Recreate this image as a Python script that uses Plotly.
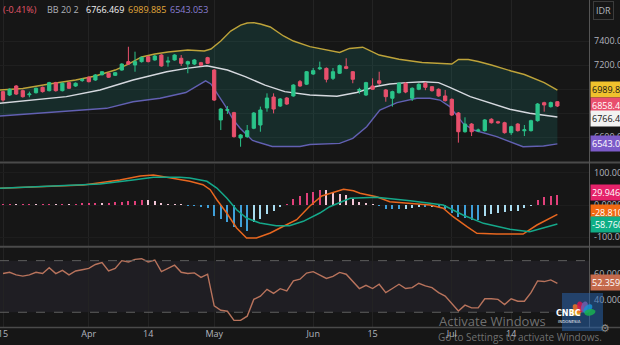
import math
import plotly.graph_objects as go

W, H = 620, 345

# ---------------- daily candles (IDR) ----------------
candle_idx = list(range(85))
opens = [6978, 6950, 7025, 6986, 6952, 6969, 7014, 6986, 7053, 6986,
         7053, 7025, 7070, 7098, 7075, 7119, 7131, 7114, 7158, 7228,
         7200, 7228, 7269, 7242, 7283, 7224, 7242, 7256, 7208, 7208,
         7219, 7261, 7158, 6742, 6822, 6803, 6592, 6603, 6673, 6700,
         6842, 6933, 6858, 6925, 6942, 7061, 7040, 7125, 7168, 7172,
         7089, 7131, 7186, 7144, 6988, 6950, 7025, 7069, 6992, 6923,
         6969, 7048, 6923, 6998, 7048, 7019, 6998, 6942, 6914, 6800,
         6644, 6708, 6650, 6653, 6748, 6727, 6719, 6636, 6708, 6652,
         6653, 6736, 6886, 6853, 6894]
highs = [6985, 7005, 7033, 6995, 6978, 7012, 7020, 7060, 7060, 7055,
         7060, 7055, 7092, 7105, 7125, 7150, 7138, 7142, 7215, 7352,
         7311, 7270, 7276, 7283, 7290, 7269, 7290, 7283, 7236, 7250,
         7226, 7268, 7165, 6842, 6858, 6810, 6625, 6700, 6808, 6853,
         6964, 6964, 6925, 6933, 7040, 7075, 7150, 7175, 7228, 7180,
         7175, 7203, 7256, 7150, 7010, 7060, 7089, 7144, 7000, 6986,
         7056, 7056, 7014, 7048, 7058, 7025, 7005, 6992, 6922, 6808,
         6764, 6716, 6670, 6750, 6756, 6735, 6727, 6694, 6716, 6700,
         6744, 6883, 6894, 6895, 6900]
lows = [6894, 6942, 6950, 6928, 6931, 6962, 6970, 6980, 6978, 6980,
        7000, 7018, 7060, 7055, 7068, 7112, 7092, 7108, 7152, 7200,
        7144, 7220, 7222, 7236, 7186, 7186, 7236, 7192, 7131, 7200,
        7190, 7208, 6900, 6658, 6792, 6595, 6519, 6592, 6665, 6644,
        6811, 6797, 6850, 6867, 6936, 7018, 7033, 7117, 7158, 7055,
        7075, 7125, 7165, 7048, 6960, 6942, 6992, 7033, 6894, 6853,
        6962, 6965, 6900, 6990, 6990, 6978, 6936, 6895, 6775, 6553,
        6636, 6608, 6640, 6645, 6712, 6710, 6628, 6617, 6645, 6608,
        6645, 6728, 6811, 6845, 6850]
closes = [6908, 6998, 6958, 6936, 6958, 7006, 6978, 7053, 6986, 7048,
          7006, 7048, 7078, 7061, 7117, 7144, 7098, 7136, 7208, 7208,
          7228, 7264, 7228, 7275, 7192, 7232, 7283, 7214, 7228, 7242,
          7198, 7214, 6908, 6833, 6828, 6603, 6617, 6653, 6800, 6825,
          6925, 6833, 6917, 6875, 7033, 7025, 7144, 7153, 7176, 7081,
          7144, 7195, 7172, 7081, 6996, 7053, 6998, 7048, 6936, 6978,
          7048, 6975, 7006, 7039, 7014, 6986, 6942, 6903, 6783, 6644,
          6708, 6644, 6658, 6742, 6719, 6719, 6636, 6686, 6653, 6660,
          6736, 6875, 6867, 6886.7, 6858.4]

# ---------------- Bollinger Bands (20, 2) ----------------
bb_upper_x = [-0.5, 3, 7, 11, 14, 17, 19, 21, 23, 25,
              28, 30.5, 31.5, 33, 34.5, 36, 37, 38, 39, 40.5,
              42.5, 44, 46.5, 49.5, 51, 52.5, 54.5, 57, 60, 63.5,
              66, 68, 69, 70.5, 72, 74, 77, 79, 82, 84]
bb_upper = [6992, 7004, 7042, 7075, 7108, 7158, 7208, 7267, 7292, 7308,
            7325, 7317, 7333, 7400, 7483, 7533, 7550, 7553, 7542, 7517,
            7442, 7400, 7353, 7319, 7304, 7338, 7348, 7283, 7248, 7221,
            7214, 7208, 7246, 7246, 7229, 7200, 7150, 7121, 7053, 6989.885]
bb_mid_x = [-0.5, 4.6, 9.6, 14.7, 19.7, 24.8, 27.8, 30.9, 32.9, 34,
            36.7, 39.7, 42.7, 46.5, 50.6, 53.6, 56.3, 58.6, 61.2, 63.7,
            66, 67.7, 70.8, 73.8, 76.8, 79.8, 84]
bb_mid = [6881, 6908, 6936, 6992, 7075, 7144, 7172, 7194, 7172, 7158,
          7103, 7033, 6978, 6950, 6940, 6971, 7019, 7042, 7053, 7061,
          7053, 7014, 6936, 6881, 6831, 6798, 6766.469]
bb_lower_x = [-0.5, 7.1, 12.7, 15.7, 19.7, 23.8, 27.7, 30.7, 31.5, 33.7,
              34.9, 35.9, 37.8, 40.8, 45, 46.5, 51, 53, 55.1, 57.1,
              59.7, 62.7, 64.7, 66.2, 67.7, 69.7, 71.3, 74.8, 78.8, 81.9, 84]
bb_lower = [6775, 6803, 6825, 6839, 6894, 6923, 6971, 7068, 7042, 6858,
            6742, 6675, 6571, 6521, 6521, 6537, 6547, 6589, 6686, 6825,
            6886, 6923, 6923, 6908, 6853, 6714, 6658, 6603, 6519, 6525, 6543.053]

# ---------------- MACD ----------------
macd_x = [-0.5, 12.2, 14.7, 17.7, 20.8, 22.8, 24.8, 28.3, 30.3, 31.4,
          32.4, 33.9, 35.4, 36.9, 38.4, 40.5, 42.5, 44.5, 46.5, 48.3,
          51.6, 53.1, 54.1, 56.6, 58.6, 61.7, 64.7, 66.7, 68.2, 70.3,
          71.8, 74.8, 78.8, 80.9, 84]
macd_line = [51.7, 61.9, 69, 77.4, 89.8, 92.9, 85.8, 73.4, 62.8, 47.4,
             16.4, -24.8, -71.2, -102, -102, -86.7, -65.9, -45.5, -3, 28,
             48.6, 44.3, 36.2, 25.7, 10.2, 5.3, 0, -10.2, -36.2, -67.2,
             -87.6, -89.8, -89.8, -61.9, -28.81]
signal_x = [-0.5, 14.7, 19.7, 22.8, 26.8, 28.3, 30.9, 32.4, 33.9, 35.4,
            36.9, 38.9, 41.4, 43.4, 45.5, 48, 49.5, 52.6, 56.6, 61.7,
            66.7, 69.7, 72.8, 76.8, 79.8, 84]
signal_line = [51.7, 65, 77.4, 85.8, 85.8, 83.6, 73.4, 52.6, 21.7, -14.6,
               -40.2, -55.7, -64, -64, -50.5, -24.8, -5.3, 20.7, 23.8, 13.3,
               0, -31, -56.7, -75.2, -82.7, -58.76]
macd_hist = [2, 2, 1, 2, 2, 1, 2, 3, 2, 3,
             2, 3, 4, 5, 7, 5, 6, 8, 10, 12,
             13, 15, 14, 11, 6, 3, 2, 1, -2, -3,
             -7, -8, -33, -43, -54, -69, -69, -79, -54, -43,
             -28, -17.5, -4, 1, 18.6, 29, 37, 40, 46, 45,
             39, 34, 30, 19, 8, 5, 2, -1, -12, -12,
             -12, -11, -10, -7, -7, -6, -7, -12, -26, -36,
             -40, -46, -46, -33, -28, -26, -23, -20, -18, -10,
             -2, 14, 24, 29, 29.946]

# ---------------- RSI ----------------
rsi = [60, 61, 59, 58, 59, 61, 60, 64.5, 60, 62.5,
       59, 62, 63, 64, 67, 68.5, 62, 64, 70, 69,
       71, 71.5, 69, 70.5, 61.5, 64, 66.5, 61, 60, 60.5,
       57, 59.5, 35, 31.6, 30.8, 23.7, 23.7, 27, 40, 42.5,
       47.8, 44.7, 48.3, 46.5, 54.3, 55.6, 60.4, 61.5, 59, 56.2,
       57.8, 60.9, 59.5, 54.3, 48.4, 50.9, 48.4, 51.7, 45.2, 48.4,
       51.7, 48.4, 49.1, 52.5, 50.4, 49.1, 45.2, 42.5, 37, 31,
       35.5, 33.4, 33.4, 40.5, 40.5, 40, 36, 40.5, 38.6, 38.6,
       45.2, 54.3, 53.8, 55.1, 52.359]

# ---------------- axis labels ----------------
tick_pos = [0, 13, 22, 32, 47, 56, 68, 77]
tick_text = ["15", "Apr", "14", "May", "Jun", "15", "Jul", "14"]
price_ticks = [6600, 6800, 7000, 7200, 7400]
macd_ticks = [-100, 0, 100]
rsi_ticks = [40, 60]
rsi_bands = [30, 70]

# ---------------- styling ----------------
BG = "#161616"
GRID = "#232323"
AXIS_TXT = "#b2b5be"
FONT = "Open Sans"
UP, DOWN = "#2bc48a", "#e8506c"


def fx(px):
    return px / W


def fy(py):
    return 1 - py / H


X_END = fx(589)
DOM_MAIN = [fy(161), 1.0]
DOM_MACD = [fy(246), fy(164)]
DOM_RSI = [fy(327), fy(248)]

fig = go.Figure()

# band cloud + band lines
fig.add_trace(go.Scatter(x=bb_lower_x, y=bb_lower, mode="lines",
                         line=dict(color="#6260b2", width=1.4), yaxis="y"))
fig.add_trace(go.Scatter(x=bb_upper_x, y=bb_upper, mode="lines", fill="tonexty",
                         fillcolor="rgba(32,160,150,0.16)",
                         line=dict(color="#bea33a", width=1.4), yaxis="y"))
fig.add_trace(go.Scatter(x=bb_mid_x, y=bb_mid, mode="lines",
                         line=dict(color="#d5d8de", width=1.4), yaxis="y"))

# candles (on an overlay axis so they sit above the band cloud)
fig.add_trace(go.Candlestick(
    x=candle_idx, open=opens, high=highs, low=lows, close=closes,
    increasing=dict(line=dict(color=UP, width=1), fillcolor=UP),
    decreasing=dict(line=dict(color=DOWN, width=1), fillcolor=DOWN),
    whiskerwidth=0, yaxis="y4", xaxis="x"))

# MACD histogram colouring: growing / fading above and below zero
hist_colors = []
for k, v in enumerate(macd_hist):
    prev = macd_hist[k - 1] if k else v
    if v >= 0:
        hist_colors.append("#e0407a" if v >= prev else "#f2c6d6")
    else:
        hist_colors.append("#3f9fd8" if v <= prev else "#a9dcf0")

fig.add_trace(go.Bar(x=candle_idx, y=macd_hist, marker=dict(color=hist_colors, line=dict(width=0)),
                     width=0.32, yaxis="y2"))
fig.add_trace(go.Scatter(x=macd_x, y=macd_line, mode="lines",
                         line=dict(color="#e8671f", width=1.5), yaxis="y2"))
fig.add_trace(go.Scatter(x=signal_x, y=signal_line, mode="lines",
                         line=dict(color="#15a88a", width=1.5), yaxis="y2"))

# RSI
fig.add_trace(go.Scatter(x=candle_idx, y=rsi, mode="lines",
                         line=dict(color="#b8735c", width=1.4), yaxis="y3"))

tickfont = dict(family=FONT, size=9, color=AXIS_TXT)
yaxis_common = dict(side="right", anchor="x", showline=False, zeroline=False,
                    ticks="", ticklabelstandoff=4, tickfont=tickfont, fixedrange=True)

main_range = [6400, 7741.7]
fig.update_layout(
    width=W, height=H, margin=dict(l=0, r=0, t=0, b=0),
    paper_bgcolor=BG, plot_bgcolor=BG, template="none",
    showlegend=False, bargap=0,
    font=dict(family=FONT, color=AXIS_TXT),
    xaxis=dict(domain=[0, X_END], range=[-0.4545, 88.79], anchor="y3",
               tickvals=tick_pos, ticktext=tick_text, tickfont=tickfont,
               ticklabeloverflow="allow",
               showgrid=True, gridcolor=GRID, gridwidth=1, zeroline=False,
               showline=False, ticks="", rangeslider=dict(visible=False), fixedrange=True),
    yaxis=dict(domain=DOM_MAIN, range=main_range, tickvals=price_ticks,
               ticktext=[f"{v:.3f}" for v in price_ticks],
               showgrid=True, gridcolor="#1f1f1f", **yaxis_common),
    yaxis4=dict(overlaying="y", range=main_range, visible=False, anchor="x",
                side="right", fixedrange=True),
    yaxis2=dict(domain=DOM_MACD, range=[-126.9, 126.9], tickvals=macd_ticks,
                ticktext=["-100.00", "0.0000", "100.00"],
                showgrid=True, gridcolor="#1d1d1d", **yaxis_common),
    yaxis3=dict(domain=DOM_RSI, range=[18.6, 79.8], tickvals=rsi_ticks,
                ticktext=[f"{v:.3f}" for v in rsi_ticks],
                showgrid=False, **yaxis_common),
)

shapes = []
# RSI band background and dashed limits
shapes.append(dict(type="rect", xref="paper", yref="y3", x0=0, x1=X_END,
                   y0=rsi_bands[0], y1=rsi_bands[1], fillcolor="#1f1e23",
                   line=dict(width=0), layer="below"))
for lvl in rsi_bands:
    shapes.append(dict(type="line", xref="paper", yref="y3", x0=0, x1=X_END,
                       y0=lvl, y1=lvl, line=dict(color="#5e5e5e", width=1, dash="dash")))
# pane separators, bottom axis line and price-scale border
for py in (162.5, 246.8):
    shapes.append(dict(type="line", xref="paper", yref="paper", x0=0, x1=1,
                       y0=fy(py), y1=fy(py), line=dict(color="#4a4a4a", width=2)))
shapes.append(dict(type="line", xref="paper", yref="paper", x0=0, x1=1,
                   y0=fy(327.5), y1=fy(327.5), line=dict(color="#4a4a4a", width=1.5)))
shapes.append(dict(type="line", xref="paper", yref="paper", x0=fx(589.5), x1=fx(589.5),
                   y0=fy(328), y1=1, line=dict(color="#555555", width=1)))

# broadcaster logo: box + peacock feathers
shapes.append(dict(type="rect", xref="paper", yref="paper", x0=fx(562), x1=fx(603),
                   y0=fy(331), y1=fy(293), fillcolor="rgba(38,96,168,0.55)",
                   line=dict(width=0)))


def feather(cx, cy, ang_deg, r_in, length, width):
    ang = math.radians(ang_deg)
    ux, uy = math.cos(ang), math.sin(ang)
    pts = []
    for k in range(18):
        t = 2 * math.pi * k / 18
        a = length / 2 * math.cos(t)
        b = width / 2 * math.sin(t)
        d = r_in + length / 2 + a
        X = cx + d * ux - b * uy
        Y = cy - (d * uy + b * ux)
        pts.append(f"{fx(X):.5f},{fy(Y):.5f}")
    return "M " + " L ".join(pts) + " Z"


for ang, col in zip([168, 135, 105, 75, 45, 12],
                    ["#f7b418", "#f07023", "#d0164f", "#6f5fae", "#1a8fd0", "#19b050"]):
    shapes.append(dict(type="path", xref="paper", yref="paper",
                       path=feather(582.5, 314, ang, 2, 11, 6.5),
                       fillcolor=col, line=dict(width=0), opacity=0.85))
fig.update_layout(shapes=shapes)

ann = []
# legend-style header
pct = (closes[-1] / closes[-2] - 1) * 100
header = [
    (1, f"({pct:.2f}%)", "#e5566b"),
    (45, "BB 20 2", "#aeb1b8"),
    (84, f"{bb_mid[-1]:.3f}", "#f2f2f2"),
    (126, f"{bb_upper[-1]:.3f}", "#e3a93b"),
    (168, f"{bb_lower[-1]:.3f}", "#8a7fd4"),
]
for px, txt, col in header:
    ann.append(dict(x=fx(px), y=fy(9.5), xref="paper", yref="paper", text=txt,
                    showarrow=False, xanchor="left", yanchor="middle",
                    font=dict(family=FONT, size=9, color=col)))

# currency tag
ann.append(dict(x=fx(593), y=fy(10), xref="paper", yref="paper", text="IDR",
                showarrow=False, xanchor="left", yanchor="middle",
                font=dict(family=FONT, size=9, color=AXIS_TXT),
                bordercolor="#3c3c3c", borderwidth=1, borderpad=2, bgcolor=BG))

# last-value tags on the right scale
value_tags = [
    (bb_upper[-1], "y", "#f0c22d", "#151515", "{:.3f}", 1),
    (closes[-1], "y", "#e94f6d", "#ffffff", "{:.3f}", 0),
    (bb_mid[-1], "y", "#f2f2f2", "#151515", "{:.3f}", -1),
    (bb_lower[-1], "y", "#7c5bc9", "#ffffff", "{:.3f}", 0),
    (macd_hist[-1], "y2", "#e5226a", "#ffffff", "{:.4f}", 2.5),
    (macd_line[-1], "y2", "#f26a12", "#ffffff", "{:.4f}", 1.5),
    (signal_line[-1], "y2", "#0fae86", "#ffffff", "{:.4f}", -1),
    (rsi[-1], "y3", "#c56a4c", "#ffffff", "{:.3f}", 0.5),
]
for val, yref, bg, fg, fmt, shift in value_tags:
    ann.append(dict(x=fx(590), y=val, xref="paper", yref=yref, text=fmt.format(val),
                    showarrow=False, xanchor="left", yanchor="middle", yshift=shift,
                    font=dict(family=FONT, size=9, color=fg),
                    bgcolor=bg, borderpad=1, width=40, align="left"))

# logo text
ann.append(dict(x=fx(582.5), y=fy(319.5), xref="paper", yref="paper", text="<b>CNBC</b>",
                showarrow=False, font=dict(family="DejaVu Sans", size=8, color="#ffffff")))
ann.append(dict(x=fx(582.5), y=fy(325.5), xref="paper", yref="paper", text="INDONESIA",
                showarrow=False, font=dict(family="DejaVu Sans", size=4, color="#e8eef6")))

# system watermark
ann.append(dict(x=fx(437), y=fy(321), xref="paper", yref="paper", text="Activate Windows",
                showarrow=False, xanchor="left", yanchor="middle",
                font=dict(family=FONT, size=13, color="rgba(190,190,190,0.55)")))
ann.append(dict(x=fx(436), y=fy(337), xref="paper", yref="paper",
                text="Go to Settings to activate Windows.",
                showarrow=False, xanchor="left", yanchor="middle",
                font=dict(family=FONT, size=10, color="rgba(190,190,190,0.55)")))
ann.append(dict(x=fx(612), y=fy(337), xref="paper", yref="paper", text="⚙",
                showarrow=False, font=dict(family="DejaVu Sans", size=11, color="#8a8a8a")))

fig.update_layout(annotations=ann)

fig.write_html("out.html")
